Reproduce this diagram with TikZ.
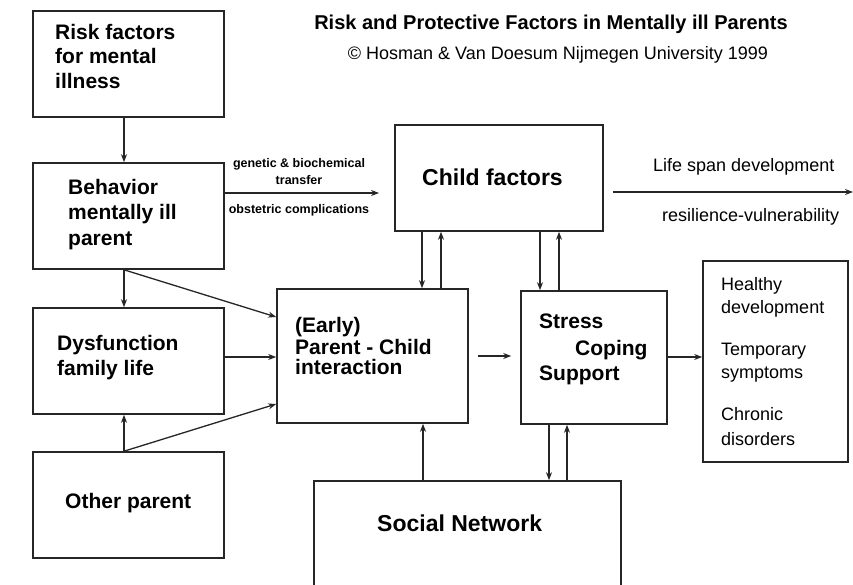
\documentclass[tikz,border=0pt]{standalone}
\usepackage{fontspec}
\setmainfont{Liberation Sans}
\usetikzlibrary{arrows.meta}
\begin{document}
\begin{tikzpicture}[x=1pt,y=-1pt,
  box/.style={draw=black!85,line width=1.6pt,rectangle,inner sep=0pt},
  arr/.style={draw=black!85,line width=1.3pt,-{Stealth[length=8pt,width=6pt]}},
  bt/.style={anchor=base west,inner sep=0pt,font=\fontsize{21}{21}\selectfont\bfseries},
  bigt/.style={anchor=base west,inner sep=0pt,font=\fontsize{23}{23}\selectfont\bfseries},
  rt/.style={anchor=base west,inner sep=0pt,font=\fontsize{18}{18}\selectfont},
  st/.style={anchor=base,inner sep=0pt,font=\fontsize{12.5}{12.5}\selectfont\bfseries}]
\clip (0,0) rectangle (853,585);
\fill[white] (0,0) rectangle (853,585);
% boxes
\node[box,minimum width=191,minimum height=106] (risk) at (128.5,64) {};
\node[box,minimum width=191,minimum height=106] (behav) at (128.5,216) {};
\node[box,minimum width=191,minimum height=106] (dysf) at (128.5,361) {};
\node[box,minimum width=191,minimum height=106] (other) at (128.5,505) {};
\node[box,minimum width=191,minimum height=134] (early) at (372.5,356) {};
\node[box,minimum width=146,minimum height=133] (stress) at (594,357.5) {};
\node[box,minimum width=307,minimum height=119] (social) at (467.5,540.5) {};
\node[box,minimum width=208,minimum height=106] (child) at (499,178) {};
\node[box,minimum width=145,minimum height=201] (outc) at (775.5,361.5) {};
% title
\node[anchor=base,inner sep=0pt,font=\fontsize{20}{20}\selectfont\bfseries] (title) at (551,30) {Risk and Protective Factors in Mentally ill Parents};
\node[anchor=base,inner sep=0pt,font=\fontsize{18}{18}\selectfont] (sub) at (558,60) {© Hosman \& Van Doesum Nijmegen University 1999};
% box texts
\node[bt] (r1) at (55,40) {Risk factors};
\node[bt] (r2) at (55,64) {for mental};
\node[bt] (r3) at (55,89) {illness};
\node[bt] (b1) at (68,195) {Behavior};
\node[bt] (b2) at (68,220) {mentally ill};
\node[bt] (b3) at (68,245) {parent};
\node[bt] (d1) at (57,350) {Dysfunction};
\node[bt] (d2) at (57,375) {family life};
\node[bt] (o1) at (65,508) {Other parent};
\node[bt] (e1) at (295,332) {(Early)};
\node[bt] (e2) at (295,354) {Parent - Child};
\node[bt] (e3) at (295,374) {interaction};
\node[bt] (s1) at (539,328) {Stress};
\node[bt] (s2) at (575,355) {Coping};
\node[bt] (s3) at (539,380) {Support};
\node[bigt] (c1) at (422,186) {Child factors};
\node[bigt] (n1) at (377,531) {Social Network};
\node[rt] (h1) at (721,290) {Healthy};
\node[rt] (h2) at (721,313) {development};
\node[rt] (h3) at (721,355) {Temporary};
\node[rt] (h4) at (721,378) {symptoms};
\node[rt] (h5) at (721,420) {Chronic};
\node[rt] (h6) at (721,445) {disorders};
% connector labels
\node[st] (g1) at (299,168) {genetic \& biochemical};
\node[st] (g2) at (299,185) {transfer};
\node[st] (g3) at (299,214) {obstetric complications};
\node[rt] (l1) at (653,172) {Life span development};
\node[rt] (l2) at (662,222) {resilience-vulnerability};
% free ends
\coordinate (gt) at (379,193);
\coordinate (lend) at (853,192);
% connectors
\draw[arr] ([xshift=-4.5pt]risk.south) -- ([xshift=-4.5pt]behav.north);
\draw[arr] ([yshift=23pt]behav.east) -- (gt);
\draw[arr] ([xshift=-4.5pt]behav.south) -- ([xshift=-4.5pt]dysf.north);
\draw[arr] ([xshift=-4.5pt]behav.south) -- ([yshift=39pt]early.west);
\draw[arr] ([yshift=4pt]dysf.east) -- ([yshift=4pt]dysf.east -| early.west);
\draw[arr] ([xshift=-4.5pt]other.north) -- ([xshift=-4.5pt]dysf.south);
\draw[arr] ([xshift=-4.5pt]other.north) -- ([yshift=-48pt]early.west);
\draw[arr] ([xshift=9pt]early.east) -- ([xshift=-9pt]early.east -| stress.west);
\draw[arr] ([yshift=0.5pt]stress.east) -- ([yshift=0.5pt]stress.east -| outc.west);
\draw[arr] ([xshift=-77pt]child.south) -- ([xshift=-77pt]child.south |- early.north);
\draw[arr] ([xshift=-58pt]child.south |- early.north) -- ([xshift=-58pt]child.south);
\draw[arr] ([xshift=41pt]child.south) -- ([xshift=41pt]child.south |- stress.north);
\draw[arr] ([xshift=60pt]child.south |- stress.north) -- ([xshift=60pt]child.south);
\draw[arr] ([xshift=-44.5pt]social.north) -- ([xshift=-44.5pt]social.north |- early.south);
\draw[arr] ([xshift=-45pt]stress.south) -- ([xshift=-45pt]stress.south |- social.north);
\draw[arr] ([xshift=-27pt]stress.south |- social.north) -- ([xshift=-27pt]stress.south);
\draw[arr] ([xshift=9pt,yshift=-14pt]child.east) -- (lend);
\end{tikzpicture}
\end{document}
